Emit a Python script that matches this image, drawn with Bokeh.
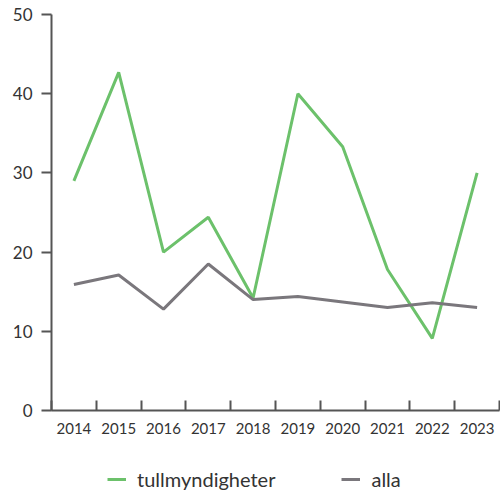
from bokeh.plotting import figure
from bokeh.models import FixedTicker, Legend, LegendItem, Range1d
from bokeh.layouts import column
from bokeh.embed import file_html
from bokeh.resources import INLINE

years = ["2014", "2015", "2016", "2017", "2018", "2019", "2020", "2021", "2022", "2023"]
tullmyndigheter = [29.0, 42.7, 20.0, 24.4, 14.2, 40.0, 33.3, 17.8, 9.1, 30.0]
alla = [15.9, 17.1, 12.8, 18.5, 14.0, 14.4, 13.7, 13.0, 13.6, 13.0]
y_ticks = [0, 10, 20, 30, 40, 50]
series_names = ["tullmyndigheter", "alla"]

FONT = "Lato"
GREEN = "#6cc16b"
GRAY = "#7a777c"
AXIS = "#555555"
TEXT = "#333333"

xs = [i + 0.5 for i in range(len(years))]
bounds = list(range(len(years) + 1))

p = figure(width=500, height=443, output_backend="svg", toolbar_location=None,
           x_range=Range1d(0, len(years)), y_range=Range1d(0, 50),
           min_border_left=51, min_border_right=1, min_border_top=14, min_border_bottom=33)
p.outline_line_color = None
p.grid.grid_line_color = None

p.line(xs, tullmyndigheter, line_color=GREEN, line_width=3)
p.line(xs, alla, line_color=GRAY, line_width=3)

xa = p.xaxis[0]
xa.ticker = FixedTicker(ticks=xs, minor_ticks=bounds)
xa.major_label_overrides = {x: y for x, y in zip(xs, years)}
xa.major_tick_in = 0
xa.major_tick_out = 0
xa.minor_tick_in = 10
xa.minor_tick_out = 0
xa.minor_tick_line_color = AXIS
xa.minor_tick_line_width = 2
xa.axis_line_color = AXIS
xa.axis_line_width = 2
xa.major_label_text_font = FONT
xa.major_label_text_font_size = "15px"
xa.major_label_text_color = TEXT
xa.major_label_standoff = 12

ya = p.yaxis[0]
ya.ticker = FixedTicker(ticks=y_ticks)
ya.major_tick_in = 0
ya.major_tick_out = 10
ya.minor_tick_line_color = None
ya.major_tick_line_color = AXIS
ya.major_tick_line_width = 2
ya.axis_line_color = AXIS
ya.axis_line_width = 2
ya.major_label_text_font = FONT
ya.major_label_text_font_size = "17px"
ya.major_label_text_color = TEXT
ya.major_label_standoff = 9

# legend-only strip below the chart
lg = figure(width=500, height=47, output_backend="svg", toolbar_location=None,
            x_range=Range1d(0, 1), y_range=Range1d(0, 1),
            x_axis_location=None, y_axis_location=None,
            min_border=0, outline_line_color=None)
lg.grid.grid_line_color = None
l1 = lg.line([-5, -4], [-5, -4], line_color=GREEN, line_width=3)
l2 = lg.line([-5, -4], [-5, -4], line_color=GRAY, line_width=3)

legend = Legend(items=[LegendItem(label=series_names[0], renderers=[l1]),
                       LegendItem(label=series_names[1], renderers=[l2])],
                orientation="horizontal", location=(56, -1),
                padding=0, margin=0, spacing=66, label_standoff=11,
                glyph_width=19, glyph_height=18,
                label_text_font=FONT, label_text_font_size="20px",
                label_text_color=TEXT, border_line_color=None,
                background_fill_alpha=0)
lg.add_layout(legend, "center")

layout = column(p, lg, spacing=0)
open("out.html", "w").write(file_html(layout, INLINE))
